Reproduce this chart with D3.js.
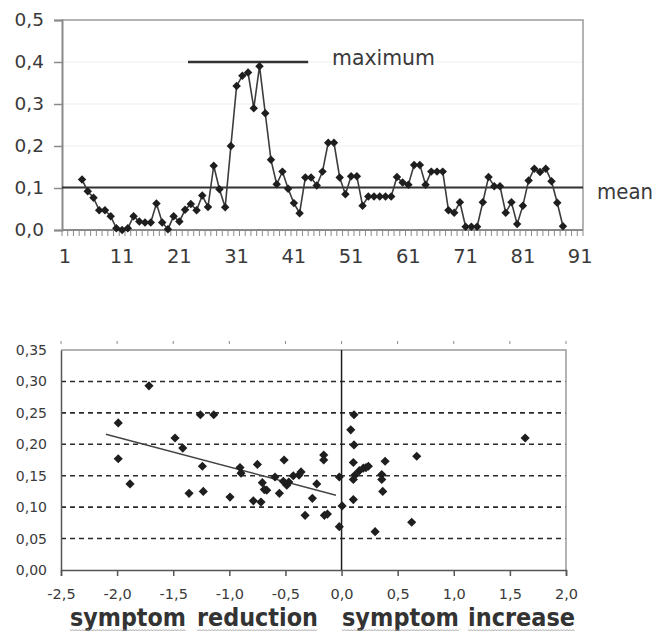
<!DOCTYPE html>
<html>
<head>
<meta charset="utf-8">
<script src="https://cdn.jsdelivr.net/npm/d3@7"></script>
<style>
  body { margin: 0; background: #fff; }
  svg { display: block; }
</style>
</head>
<body>
<svg id="chart" width="667" height="632"></svg>
<script>
// ---- Upper panel: value per measurement window (categories 1..91) ----
const categories = d3.range(1, 92);
const seriesValues = [
  null, null, null, 0.120, 0.092, 0.077, 0.047, 0.047, 0.033, 0.004,
  0.000, 0.004, 0.033, 0.020, 0.018, 0.018, 0.063, 0.018, 0.002, 0.033,
  0.020, 0.048, 0.062, 0.047, 0.082, 0.055, 0.153, 0.097, 0.054, 0.200,
  0.343, 0.367, 0.375, 0.290, 0.390, 0.278, 0.167, 0.109, 0.139, 0.098,
  0.064, 0.040, 0.125, 0.125, 0.106, 0.139, 0.208, 0.208, 0.125, 0.085,
  0.128, 0.128, 0.058, 0.080, 0.080, 0.080, 0.080, 0.080, 0.126, 0.113,
  0.108, 0.155, 0.155, 0.108, 0.139, 0.139, 0.139, 0.047, 0.041, 0.066,
  0.008, 0.008, 0.008, 0.066, 0.126, 0.104, 0.104, 0.041, 0.066, 0.014,
  0.058, 0.118, 0.146, 0.138, 0.146, 0.116, 0.065, 0.009, null, null,
  null
];
const topYTicks = [0, 0.1, 0.2, 0.3, 0.4, 0.5];
const topXTickLabels = [1, 11, 21, 31, 41, 51, 61, 71, 81, 91];
const maximumLevel = 0.4;
const maximumFrom = 23, maximumTo = 44;   // categories spanned by the maximum bar

// ---- Lower panel: symptom change vs. value ----
const changeX = [
  -1.716, -1.990, -1.990, -1.885, -1.258, -1.139, -1.484, -1.415, -1.240, -1.359,
  -1.232, -0.994, -0.905, -0.896, -0.786, -0.718, -0.750, -0.706, -0.688, -0.667,
  -0.593, -0.554, -0.512, -0.519, -0.488, -0.470, -0.430, -0.379, -0.361, -0.325,
  -0.260, -0.221, -0.159, -0.159, -0.153, -0.126, -0.020, 0.005, -0.020,
  0.111, 0.082, 0.111, 0.105, 0.120, 0.105, 0.159, 0.194, 0.218, 0.239,
  0.105, 0.299, 0.388, 0.358, 0.358, 0.367, 0.670, 0.625, 1.636
];
const valueY = [
  0.293, 0.234, 0.177, 0.137, 0.247, 0.247, 0.210, 0.194, 0.165, 0.122,
  0.125, 0.116, 0.163, 0.154, 0.110, 0.108, 0.168, 0.139, 0.128, 0.127,
  0.148, 0.122, 0.175, 0.141, 0.135, 0.140, 0.150, 0.151, 0.156, 0.087,
  0.114, 0.137, 0.183, 0.175, 0.087, 0.089, 0.148, 0.102, 0.069,
  0.247, 0.223, 0.199, 0.171, 0.151, 0.144, 0.158, 0.162, 0.163, 0.165,
  0.112, 0.061, 0.173, 0.152, 0.144, 0.125, 0.181, 0.076, 0.210
];
const trendX = [-2.10, -0.05];
const trendY = [0.216, 0.119];
const bottomYTicks = [0, 0.05, 0.10, 0.15, 0.20, 0.25, 0.30, 0.35];
const bottomXTicks = [-2.5, -2.0, -1.5, -1.0, -0.5, 0.0, 0.5, 1.0, 1.5, 2.0];
const sideWords = ["symptom", "reduction", "symptom", "increase"];

const comma = (v, d) => v.toFixed(d).replace(".", ",");
const svg = d3.select("#chart");
const font = "'DejaVu Sans', Verdana, sans-serif";

// ================= Upper panel =================
const T = { left: 62, right: 583, top: 20, bottom: 230 };
const xb = d3.scaleBand().domain(categories).range([T.left, T.right]).paddingInner(0).paddingOuter(0);
const y1 = d3.scaleLinear().domain([0, 0.5]).range([T.bottom, T.top]);
const cx = c => xb(c) + xb.bandwidth() / 2;

const upper = svg.append("g");

// faint horizontal gridlines
upper.selectAll("line.grid").data(topYTicks.filter(v => v > 0 && v < 0.5)).join("line")
  .attr("x1", T.left).attr("x2", T.right)
  .attr("y1", d => y1(d)).attr("y2", d => y1(d))
  .attr("stroke", "#efefef").attr("stroke-width", 1);

// plot frame (top and right)
upper.append("path")
  .attr("d", `M${T.left},${y1(0.5)}H${T.right}V${T.bottom}`)
  .attr("fill", "none").attr("stroke", "#9a9a9a").attr("stroke-width", 1.5);

// y axis
const yAxisTop = d3.axisLeft(y1).tickValues(topYTicks).tickSize(8).tickFormat(d => comma(d, 1));
const gy1 = upper.append("g").attr("transform", `translate(${T.left},0)`).call(yAxisTop);
gy1.select(".domain").attr("stroke", "#8a8a8a").attr("stroke-width", 2);
gy1.selectAll(".tick line").attr("stroke", "#8a8a8a").attr("stroke-width", 1.5);
gy1.selectAll(".tick text").attr("x", -18).attr("font-family", font).attr("font-size", 18.5).attr("fill", "#3a3a3a");

// x axis: a tick at every category boundary, labels every tenth category
const boundaries = categories.map(c => xb(c)).concat([T.right]);
upper.selectAll("line.xtick").data(boundaries).join("line")
  .attr("x1", d => d).attr("x2", d => d)
  .attr("y1", T.bottom).attr("y2", T.bottom + 6)
  .attr("stroke", "#8a8a8a").attr("stroke-width", 1);
upper.append("line")
  .attr("x1", T.left).attr("x2", T.right).attr("y1", T.bottom).attr("y2", T.bottom)
  .attr("stroke", "#8a8a8a").attr("stroke-width", 2);
upper.selectAll("text.xlab").data(topXTickLabels).join("text")
  .attr("x", d => cx(d)).attr("y", 263)
  .attr("text-anchor", "middle")
  .attr("font-family", font).attr("font-size", 19.5).attr("fill", "#3a3a3a")
  .text(d => d);

// mean line
const meanValue = d3.mean(seriesValues.filter(v => v !== null));
upper.append("line")
  .attr("x1", T.left).attr("x2", T.right)
  .attr("y1", y1(meanValue)).attr("y2", y1(meanValue))
  .attr("stroke", "#333").attr("stroke-width", 2);
upper.append("text").attr("x", 597).attr("y", 199)
  .attr("font-family", font).attr("font-size", 22)
  .attr("textLength", 56).attr("lengthAdjust", "spacingAndGlyphs")
  .attr("fill", "#3a3a3a").text("mean");

// maximum bar
upper.append("line")
  .attr("x1", xb(maximumFrom)).attr("x2", xb(maximumTo))
  .attr("y1", y1(maximumLevel)).attr("y2", y1(maximumLevel))
  .attr("stroke", "#333").attr("stroke-width", 2.5);
upper.append("text").attr("x", 332).attr("y", 65)
  .attr("font-family", font).attr("font-size", 22)
  .attr("textLength", 103).attr("lengthAdjust", "spacingAndGlyphs")
  .attr("fill", "#3a3a3a").text("maximum");

// series line and diamond markers
const pts = categories.map((c, i) => ({ c, v: seriesValues[i] })).filter(d => d.v !== null);
upper.append("path").datum(pts)
  .attr("d", d3.line().x(d => cx(d.c)).y(d => y1(d.v)))
  .attr("fill", "none").attr("stroke", "#3c3c3c").attr("stroke-width", 1.6);
const diamondTop = d3.symbol(d3.symbolSquare, 36)();
upper.selectAll("path.mk").data(pts).join("path")
  .attr("d", diamondTop)
  .attr("transform", d => `translate(${cx(d.c)},${y1(d.v)}) rotate(45)`)
  .attr("fill", "#1e1e1e");

// ================= Lower panel =================
const B = { left: 61, right: 566, top: 350, bottom: 570 };
const x2 = d3.scaleLinear().domain([-2.5, 2.0]).range([B.left, B.right]);
const y2 = d3.scaleLinear().domain([0, 0.35]).range([B.bottom, B.top]);

const lower = svg.append("g");

// dashed gridlines
lower.selectAll("line.grid").data(bottomYTicks.filter(v => v > 0 && v < 0.35)).join("line")
  .attr("x1", B.left).attr("x2", B.right)
  .attr("y1", d => y2(d)).attr("y2", d => y2(d))
  .attr("stroke", "#2a2a2a").attr("stroke-width", 1.6).attr("stroke-dasharray", "5,4");

// frame top / right
lower.append("path")
  .attr("d", `M${B.left},${B.top}H${B.right}V${B.bottom}`)
  .attr("fill", "none").attr("stroke", "#9a9a9a").attr("stroke-width", 1.5);

// small marks above the frame
lower.selectAll("line.topmark").data(bottomXTicks).join("line")
  .attr("x1", d => x2(d)).attr("x2", d => x2(d))
  .attr("y1", 341).attr("y2", 344)
  .attr("stroke", "#8a8a8a").attr("stroke-width", 1);

// y axis
const gy2 = lower.append("g").attr("transform", `translate(${B.left},0)`)
  .call(d3.axisLeft(y2).tickValues(bottomYTicks).tickSize(0).tickPadding(14).tickFormat(d => comma(d, 2)));
gy2.select(".domain").attr("stroke", "#555").attr("stroke-width", 1.5);
gy2.selectAll(".tick text").attr("font-family", font).attr("font-size", 14).attr("fill", "#3a3a3a");

// x axis
const gx2 = lower.append("g").attr("transform", `translate(0,${B.bottom})`)
  .call(d3.axisBottom(x2).tickValues(bottomXTicks).tickSize(6).tickPadding(13).tickFormat(d => comma(d, 1)));
gx2.select(".domain").attr("stroke", "#555").attr("stroke-width", 1.5);
gx2.selectAll(".tick line").attr("stroke", "#555").attr("stroke-width", 1.5);
gx2.selectAll(".tick text").attr("font-family", font).attr("font-size", 14.5).attr("fill", "#3a3a3a");

// vertical line at zero change
lower.append("line")
  .attr("x1", x2(0)).attr("x2", x2(0)).attr("y1", B.top).attr("y2", B.bottom)
  .attr("stroke", "#1e1e1e").attr("stroke-width", 1.5);

// trend line
lower.append("line")
  .attr("x1", x2(trendX[0])).attr("y1", y2(trendY[0]))
  .attr("x2", x2(trendX[1])).attr("y2", y2(trendY[1]))
  .attr("stroke", "#444").attr("stroke-width", 1.5);

// scatter points
const diamondBot = d3.symbol(d3.symbolSquare, 42)();
lower.selectAll("path.pt").data(changeX.map((x, i) => ({ x, y: valueY[i] }))).join("path")
  .attr("d", diamondBot)
  .attr("transform", d => `translate(${x2(d.x)},${y2(d.y)}) rotate(45)`)
  .attr("fill", "#1e1e1e");

// side captions, each word with a wavy underline
const wordBoxes = [[70, 116], [197, 121], [342, 117], [468, 107]];
sideWords.forEach((w, i) => {
  const [x0, wd] = wordBoxes[i];
  lower.append("text").attr("x", x0).attr("y", 626)
    .attr("font-family", font).attr("font-weight", "bold").attr("font-size", 24.5)
    .attr("textLength", wd).attr("lengthAdjust", "spacingAndGlyphs")
    .attr("fill", "#333").text(w);
  let d = `M${x0},629.5`;
  for (let x = x0 + 1.5, k = 0; x <= x0 + wd; x += 1.5, k++) d += `L${x},${k % 2 ? 629.5 : 631}`;
  lower.append("path").attr("d", d).attr("fill", "none").attr("stroke", "#a8a8a8").attr("stroke-width", 1);
});
</script>
</body>
</html>
